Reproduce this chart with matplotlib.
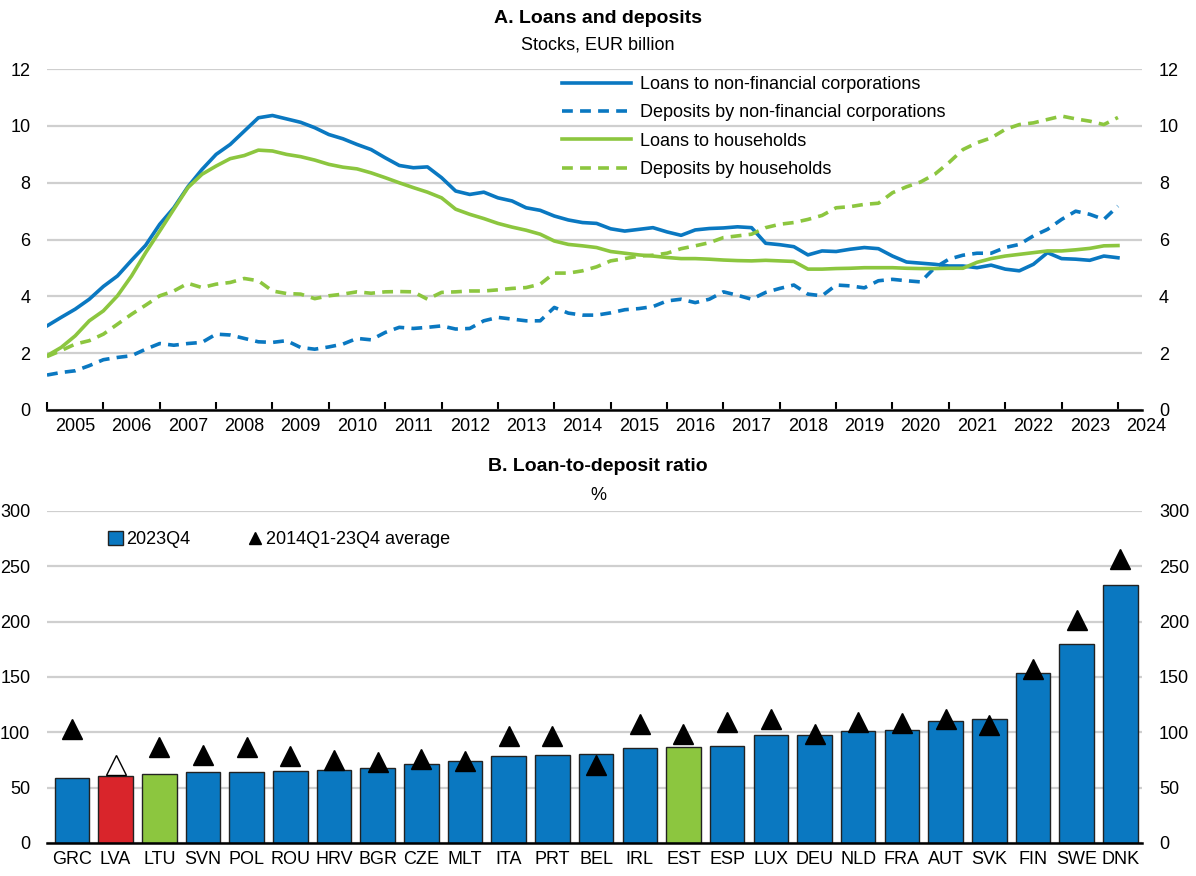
import matplotlib
matplotlib.use('Agg')
import matplotlib.pyplot as plt
from matplotlib.lines import Line2D
from matplotlib.patches import Patch
import matplotlib.transforms as mtransforms
import numpy as np
import pandas as pd

plt.rcParams['font.family'] = ['Liberation Sans Narrow', 'Liberation Sans', 'DejaVu Sans']

BLUE = '#0A78C1'
GREEN = '#8CC63F'
RED = '#D9252B'
GRID = '#CFCFCF'

# ---------------------------------------------
# Panel A: stocks, EUR billion (quarterly, Jan 2005 - Jan 2024)
# ---------------------------------------------
dates = pd.date_range('2005-01-01', '2024-01-01', freq='QS')

loans_nfc = [2.96, 3.26, 3.55, 3.90, 4.35, 4.72, 5.27, 5.80, 6.54, 7.12, 7.86, 8.47,
             9.00, 9.35, 9.82, 10.29, 10.37, 10.25, 10.13, 9.94, 9.70, 9.55, 9.35, 9.17,
             8.88, 8.61, 8.53, 8.56, 8.18, 7.71, 7.59, 7.67, 7.47, 7.36, 7.12, 7.03,
             6.83, 6.69, 6.60, 6.57, 6.38, 6.30, 6.36, 6.42, 6.27, 6.15, 6.34, 6.39,
             6.41, 6.45, 6.42, 5.87, 5.82, 5.75, 5.46, 5.60, 5.58, 5.66, 5.72, 5.68,
             5.42, 5.21, 5.17, 5.13, 5.07, 5.07, 5.01, 5.10, 4.96, 4.90, 5.13, 5.54,
             5.33, 5.31, 5.27, 5.42, 5.36]

deposits_nfc = [1.23, 1.32, 1.38, 1.56, 1.77, 1.85, 1.91, 2.14, 2.34, 2.28, 2.34, 2.38,
                2.67, 2.64, 2.52, 2.40, 2.38, 2.44, 2.20, 2.14, 2.22, 2.32, 2.52, 2.47,
                2.73, 2.91, 2.87, 2.91, 2.96, 2.85, 2.87, 3.14, 3.26, 3.20, 3.14, 3.14,
                3.61, 3.41, 3.34, 3.34, 3.42, 3.53, 3.57, 3.64, 3.84, 3.90, 3.78, 3.90,
                4.16, 4.04, 3.90, 4.14, 4.28, 4.40, 4.08, 4.02, 4.40, 4.37, 4.30, 4.55,
                4.60, 4.55, 4.51, 5.01, 5.31, 5.45, 5.52, 5.52, 5.72, 5.83, 6.13, 6.36,
                6.71, 7.00, 6.89, 6.71, 7.18]

loans_hh = [1.91, 2.20, 2.61, 3.14, 3.49, 4.02, 4.72, 5.54, 6.30, 7.07, 7.83, 8.30,
            8.59, 8.85, 8.96, 9.15, 9.12, 9.00, 8.92, 8.80, 8.65, 8.55, 8.49, 8.35,
            8.18, 8.00, 7.83, 7.67, 7.47, 7.07, 6.89, 6.74, 6.57, 6.44, 6.33, 6.19,
            5.95, 5.83, 5.78, 5.72, 5.58, 5.52, 5.46, 5.42, 5.37, 5.33, 5.33, 5.31,
            5.28, 5.26, 5.25, 5.27, 5.25, 5.23, 4.96, 4.96, 4.98, 4.99, 5.01, 5.01,
            5.01, 4.99, 4.98, 4.98, 4.99, 4.99, 5.20, 5.33, 5.42, 5.48, 5.54, 5.60,
            5.60, 5.64, 5.69, 5.78, 5.79]

deposits_hh = [1.88, 2.09, 2.32, 2.44, 2.67, 3.02, 3.37, 3.69, 4.02, 4.19, 4.46, 4.31,
               4.43, 4.49, 4.63, 4.55, 4.19, 4.10, 4.08, 3.92, 4.02, 4.08, 4.16, 4.11,
               4.16, 4.17, 4.16, 3.90, 4.14, 4.16, 4.19, 4.19, 4.23, 4.28, 4.31, 4.43,
               4.82, 4.82, 4.90, 5.04, 5.25, 5.33, 5.42, 5.45, 5.52, 5.68, 5.78, 5.89,
               6.07, 6.13, 6.19, 6.42, 6.54, 6.60, 6.71, 6.85, 7.12, 7.16, 7.24, 7.28,
               7.65, 7.86, 8.03, 8.30, 8.71, 9.17, 9.41, 9.58, 9.88, 10.05, 10.11, 10.23,
               10.35, 10.25, 10.17, 10.05, 10.30]

series_labels = ['Loans to non-financial corporations', 'Deposits by non-financial corporations',
                 'Loans to households', 'Deposits by households']

# ---------------------------------------------
# Panel B: loan-to-deposit ratio, %
# ---------------------------------------------
countries = ['GRC', 'LVA', 'LTU', 'SVN', 'POL', 'ROU', 'HRV', 'BGR', 'CZE', 'MLT', 'ITA', 'PRT', 'BEL',
             'IRL', 'EST', 'ESP', 'LUX', 'DEU', 'NLD', 'FRA', 'AUT', 'SVK', 'FIN', 'SWE', 'DNK']
ratio_2023q4 = [58.9, 60.7, 61.9, 63.7, 64.4, 65.3, 65.6, 67.4, 71.0, 74.0, 78.5, 79.8, 80.4,
                85.8, 86.7, 87.6, 97.3, 97.3, 100.9, 102.1, 110.3, 112.1, 153.8, 180.1, 233.5]
ratio_avg = [103.3, 70.7, 86.4, 79.5, 86.7, 78.5, 74.9, 73.4, 75.5, 74.0, 96.7, 96.7, 70.7,
             107.3, 98.5, 109.1, 112.1, 98.5, 109.4, 108.8, 111.8, 106.3, 156.8, 201.5, 256.8]

bar_colors = [RED if c == 'LVA' else GREEN if c in ('LTU', 'EST') else BLUE for c in countries]

# =============================================
# FIGURE
# =============================================
fig = plt.figure(figsize=(11.96, 8.76), dpi=100)
ax1 = fig.add_axes([0.0393, 0.532, 0.9157, 0.389])
ax2 = fig.add_axes([0.0393, 0.0377, 0.9157, 0.379])

# ---- Panel A ----
x = dates.year + (dates.month - 1) / 12
ax1.plot(x, loans_nfc, color=BLUE, lw=2.6, label=series_labels[0])
ax1.plot(x, deposits_nfc, color=BLUE, lw=2.6, ls=(0, (3, 2)), label=series_labels[1])
ax1.plot(x, loans_hh, color=GREEN, lw=2.6, label=series_labels[2])
ax1.plot(x, deposits_hh, color=GREEN, lw=2.6, ls=(0, (3, 2)), label=series_labels[3])

ax1.set_xlim(2005, 2024.43)
ax1.set_ylim(0, 12)
ax1.set_yticks(range(0, 13, 2))
ax1.grid(axis='y', color=GRID, lw=1.6)
ax1.set_axisbelow(True)
for s in ['top', 'left', 'right']:
    ax1.spines[s].set_visible(False)
ax1.spines['bottom'].set_linewidth(1.8)
ax1.set_xticks(range(2005, 2025))
ax1.tick_params(axis='x', direction='in', length=6, width=1.5, labelbottom=False)
ax1.tick_params(axis='y', length=0, labelsize=13, labelright=True, pad=12)
trans = mtransforms.blended_transform_factory(ax1.transData, ax1.transAxes)
for yr in range(2005, 2025):
    ax1.text(yr + 0.5, -0.025, str(yr), transform=trans, ha='center', va='top', fontsize=13)

ax1.legend(loc='upper left', bbox_to_anchor=(0.4555, 1.027), frameon=False, fontsize=13,
           handlelength=3.8, labelspacing=0.62, handletextpad=0.5)

fig.text(0.5, 0.979, 'A. Loans and deposits', ha='center', va='center', fontsize=14, fontweight='bold')
fig.text(0.5, 0.949, 'Stocks, EUR billion', ha='center', va='center', fontsize=13)

# ---- Panel B ----
pos = np.arange(len(countries))
ax2.bar(pos, ratio_2023q4, width=0.79, color=bar_colors, edgecolor='#222222', lw=1.0, zorder=2)
for i, (p, v) in enumerate(zip(pos, ratio_avg)):
    face = 'white' if countries[i] == 'LVA' else 'black'
    ax2.plot(p, v, marker='^', ms=14, color=face, markeredgecolor='black', mew=1.0, zorder=3)

ax2.set_xlim(-0.57, len(countries) - 0.5)
ax2.set_ylim(0, 300)
ax2.set_yticks(range(0, 301, 50))
ax2.set_xticks(pos)
ax2.set_xticklabels(countries)
ax2.grid(axis='y', color=GRID, lw=1.6, zorder=0)
ax2.set_axisbelow(True)
for s in ['top', 'left', 'right']:
    ax2.spines[s].set_visible(False)
ax2.spines['bottom'].set_linewidth(1.8)
ax2.spines['bottom'].set_zorder(4)
ax2.tick_params(axis='x', length=0, labelsize=13, pad=6)
ax2.tick_params(axis='y', length=0, labelsize=13, labelright=True, pad=12)

handles = [Patch(facecolor=BLUE, edgecolor='#222222', lw=1.0),
           Line2D([], [], ls='none', marker='^', ms=9, color='black')]
ax2.legend(handles, ['2023Q4', '2014Q1-23Q4 average'], loc='upper left',
           bbox_to_anchor=(0.041, 0.988), ncol=2, frameon=False, fontsize=13,
           handlelength=0.8, handleheight=0.8, handletextpad=0.2, columnspacing=3.2)

fig.text(0.5, 0.468, 'B. Loan-to-deposit ratio', ha='center', va='center', fontsize=14, fontweight='bold')
fig.text(0.5, 0.434, '%', ha='center', va='center', fontsize=13)

plt.savefig('out.png', dpi=100)
